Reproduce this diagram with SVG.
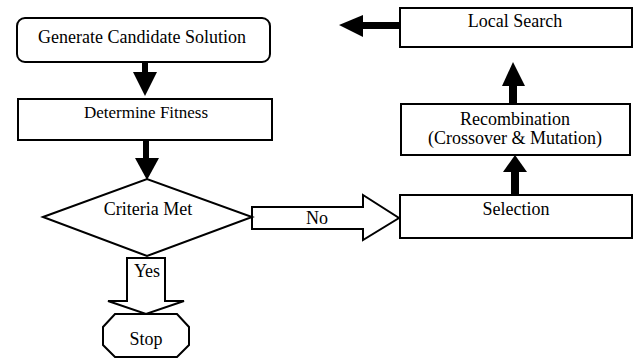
<svg xmlns="http://www.w3.org/2000/svg" width="634" height="361" viewBox="0 0 634 361">
<style>
.box{fill:#fff;stroke:#000;stroke-width:2}
.hollow{fill:#fff;stroke:#000;stroke-width:2;stroke-linejoin:miter}
.solid{fill:#000;stroke:none}
text{font-family:'Liberation Serif',Tinos,'Times New Roman','DejaVu Serif',serif;font-size:18px;fill:#000;text-anchor:middle}
</style>
<rect width="634" height="361" fill="#fff"/>
<g id="connectors">
  <g id="c1"><rect class="solid" x="142" y="62" width="6" height="11"/><polygon class="solid" points="133,72 157,72 145,96"/></g>
  <g id="c2"><rect class="solid" x="143" y="140" width="6" height="19"/><polygon class="solid" points="135,158 159,158 147,180"/></g>
  <g id="c3"><polygon class="hollow" points="127,258 165,258 165,301 184,301 146,314 108,301 127,301"/><text x="147" y="277">Yes</text></g>
  <g id="c4"><polygon class="hollow" points="252,207 363,207 363,195 399,218 363,240 363,229 252,229"/><text x="317" y="224">No</text></g>
  <g id="c5"><rect class="solid" x="511" y="171" width="8" height="24"/><polygon class="solid" points="503,172 527,172 515,155"/></g>
  <g id="c6"><rect class="solid" x="509" y="85" width="8" height="19"/><polygon class="solid" points="502,86 525,86 513,62"/></g>
  <g id="c7"><rect class="solid" x="362" y="22" width="38" height="7"/><polygon class="solid" points="363,15 363,37 339,25"/></g>
</g>
<g id="generate"><rect class="box" x="17" y="18" width="253" height="44" rx="8"/><text x="142" y="43">Generate Candidate Solution</text></g>
<g id="fitness"><rect class="box" x="18" y="99" width="254" height="41"/><text x="146" y="118" style="font-size:17px">Determine Fitness</text></g>
<g id="criteria"><polygon class="box" points="43,217 147,179 252,217 147,256"/><text x="148" y="215">Criteria Met</text></g>
<g id="stop"><polygon class="box" points="115,314 177,314 189,327 189,345 177,357 115,357 103,345 103,327"/><text x="146" y="345">Stop</text></g>
<g id="selection"><rect class="box" x="400" y="195" width="232" height="43"/><text x="516" y="215">Selection</text></g>
<g id="recombination"><rect class="box" x="401" y="104" width="229" height="51"/><text x="515" y="125">Recombination</text><text x="515" y="144">(Crossover &amp; Mutation)</text></g>
<g id="localsearch"><rect class="box" x="400" y="8" width="232" height="39"/><text x="515" y="27">Local Search</text></g>
</svg>
